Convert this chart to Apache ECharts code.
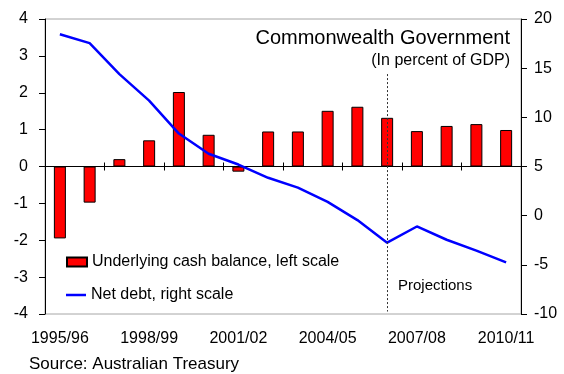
<!DOCTYPE html>
<html>
<head>
<meta charset="utf-8">
<title>Commonwealth Government</title>
<script src="https://cdn.jsdelivr.net/npm/echarts@6/dist/echarts.min.js"></script>
<style>
  html, body { margin: 0; padding: 0; background: #ffffff; }
  #chart { width: 564px; height: 374px; }
</style>
</head>
<body>
<div id="chart"></div>
<script>
// Fiscal years
const years = ['1995/96', '1996/97', '1997/98', '1998/99', '1999/00', '2000/01', '2001/02', '2002/03',
  '2003/04', '2004/05', '2005/06', '2006/07', '2007/08', '2008/09', '2009/10', '2010/11'];

// Underlying cash balance, % of GDP (left scale)
const cashBalance = [-1.95, -0.98, 0.20, 0.71, 2.02, 0.86, -0.14, 0.95,
  0.95, 1.51, 1.62, 1.32, 0.96, 1.10, 1.15, 0.99];

// Net debt, % of GDP (right scale)
const netDebt = [18.45, 17.55, 14.4, 11.7, 8.35, 6.3, 5.2, 3.85,
  2.85, 1.4, -0.45, -2.75, -1.1, -2.45, -3.55, -4.75];

// First year of the forward projections
const projectionStart = '2006/07';

// Dashed divider extent on the right scale
const dividerTop = 14.4;
const dividerBottom = -9.75;

const FONT = 'Liberation Sans, Arial, sans-serif';

const chart = echarts.init(document.getElementById('chart'), null, { renderer: 'canvas' });

const hiddenCat = {
  type: 'category',
  data: years,
  axisLabel: { show: false },
  splitLine: { show: false }
};

chart.setOption({
  animation: false,
  backgroundColor: '#ffffff',
  textStyle: { fontFamily: FONT, color: '#000' },
  title: [
    { text: 'Commonwealth Government', right: 54, top: 28, padding: 0,
      textStyle: { fontFamily: FONT, fontSize: 20, fontWeight: 'normal', color: '#000' } },
    { text: '(In percent of GDP)', right: 54, top: 53, padding: 0,
      textStyle: { fontFamily: FONT, fontSize: 16, fontWeight: 'normal', color: '#000' } },
    { text: 'Projections', left: 398, top: 278, padding: 0,
      textStyle: { fontFamily: FONT, fontSize: 15, fontWeight: 'normal', color: '#000' } },
    { text: 'Source: Australian Treasury', left: 29, top: 356, padding: 0,
      textStyle: { fontFamily: FONT, fontSize: 17, fontWeight: 'normal', color: '#000' } }
  ],
  legend: [
    { data: [{ name: 'Underlying cash balance, left scale', icon: 'rect' }],
      left: 66, top: 254, padding: 0, itemWidth: 20, itemHeight: 9,
      textStyle: { fontFamily: FONT, fontSize: 16, color: '#000' } },
    { data: [{ name: 'Net debt, right scale', icon: 'rect' }],
      left: 66, top: 287, padding: 0, itemWidth: 20, itemHeight: 2.5,
      itemStyle: { color: '#0000ff', borderWidth: 0 },
      textStyle: { fontFamily: FONT, fontSize: 16, color: '#000' } }
  ],
  grid: {
    left: 45, right: 43, top: 19, bottom: 60,
    show: true, borderColor: '#a6a6a6', borderWidth: 1, backgroundColor: 'transparent'
  },
  xAxis: [
    // Year labels along the bottom
    {
      type: 'category', data: years, position: 'bottom',
      axisLine: { show: false, onZero: false },
      axisTick: { show: false },
      axisLabel: { interval: 2, margin: 17, fontFamily: FONT, fontSize: 16, color: '#000' },
      splitLine: { show: false }
    },
    // Zero line with upward ticks
    Object.assign({}, hiddenCat, {
      position: 'bottom',
      axisLine: { show: true, onZero: true, onZeroAxisIndex: 0, lineStyle: { color: '#000', width: 1 } },
      axisTick: { show: true, inside: true, length: 4, lineStyle: { color: '#000', width: 1 } }
    }),
    // Zero line with downward ticks
    Object.assign({}, hiddenCat, {
      position: 'top',
      axisLine: { show: true, onZero: true, onZeroAxisIndex: 0, lineStyle: { color: '#000', width: 1 } },
      axisTick: { show: true, inside: true, length: 4, lineStyle: { color: '#000', width: 1 } }
    })
  ],
  yAxis: [
    {
      type: 'value', position: 'left', min: -4, max: 4, interval: 1,
      axisLine: { show: true, onZero: false, lineStyle: { color: '#000', width: 1 } },
      axisTick: { show: true, length: 6, lineStyle: { color: '#000' } },
      axisLabel: { margin: 17, fontFamily: FONT, fontSize: 16, color: '#000' },
      splitLine: { show: false }
    },
    {
      type: 'value', position: 'right', min: -10, max: 20, interval: 5,
      axisLine: { show: true, onZero: false, lineStyle: { color: '#000', width: 1 } },
      axisTick: { show: true, length: 6, lineStyle: { color: '#000' } },
      axisLabel: { margin: 13, fontFamily: FONT, fontSize: 16, color: '#000' },
      splitLine: { show: false }
    }
  ],
  series: [
    {
      name: 'Underlying cash balance, left scale',
      type: 'bar',
      xAxisIndex: 0, yAxisIndex: 0,
      data: cashBalance,
      barWidth: 12,
      itemStyle: { color: '#ff0000', borderColor: '#000000', borderWidth: 1 },
      z: 2
    },
    {
      name: 'Net debt, right scale',
      type: 'line',
      xAxisIndex: 0, yAxisIndex: 1,
      data: netDebt,
      symbol: 'none',
      lineStyle: { color: '#0000ff', width: 2.5 },
      itemStyle: { color: '#0000ff' },
      z: 4,
      markLine: {
        silent: true,
        symbol: ['none', 'none'],
        label: { show: false },
        lineStyle: { color: '#333333', width: 1, type: [2, 2] },
        data: [[
          { coord: [projectionStart, dividerTop] },
          { coord: [projectionStart, dividerBottom] }
        ]]
      }
    }
  ]
});
</script>
</body>
</html>
